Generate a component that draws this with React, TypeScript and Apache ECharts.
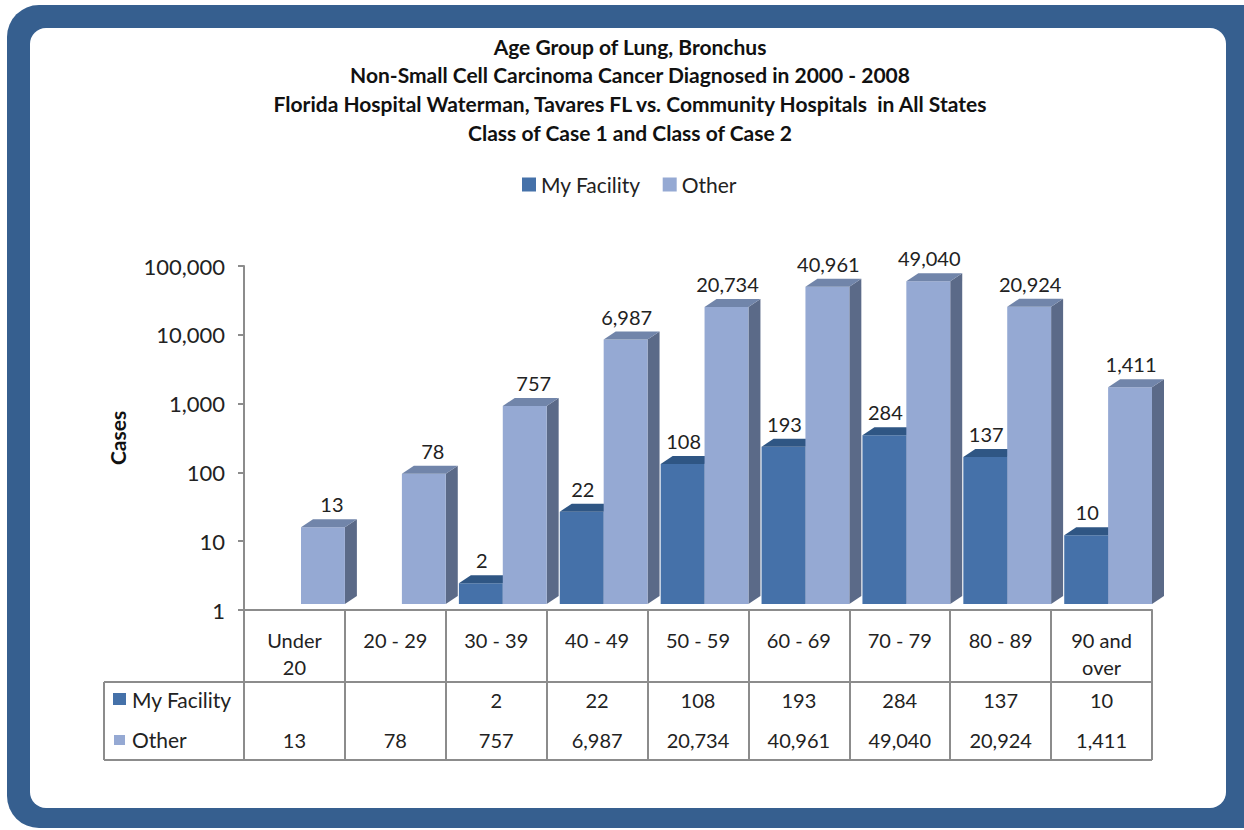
import React, { useEffect, useRef } from "react";
import * as echarts from "echarts";

const titleLines = [
  "Age Group of Lung, Bronchus",
  "Non-Small Cell Carcinoma Cancer Diagnosed in 2000 - 2008",
  "Florida Hospital Waterman, Tavares FL vs. Community Hospitals  in All States",
  "Class of Case 1 and Class of Case 2",
];
const categories = ["Under\n20", "20 - 29", "30 - 39", "40 - 49", "50 - 59", "60 - 69", "70 - 79", "80 - 89", "90 and\nover"];
const myFacility: (number | null)[] = [null, null, 2, 22, 108, 193, 284, 137, 10];
const other: (number | null)[] = [13, 78, 757, 6987, 20734, 40961, 49040, 20924, 1411];
const seriesNames = ["My Facility", "Other"];
const yAxisName = "Cases";

const FONT = "Lato, 'Open Sans', sans-serif";
const GRID = { left: 244, right: 92, top: 266, bottom: 220 };
const DX = 12;
const DY = 8;
const LIFT = 6;

const COLORS = [
  { front: "#4571a9", top: "#2f5684", side: "#2b4c75" },
  { front: "#95a9d3", top: "#7185aa", side: "#5b6a88" },
];

const fmt = (v: number) => v.toLocaleString("en-US");

function makeRender(si: number, tableY: number) {
  return (params: any, api: any) => {
    const idx = api.value(0);
    const val = api.value(1);
    if (val == null || isNaN(val)) return null;
    const c = api.coord([idx, val]);
    const base = api.coord([idx, 1]);
    const bw = api.size([1, 0])[0];
    const c0 = c[0] - bw / 2;
    const w = bw * 0.435;
    const x0 = si === 0 ? c0 + bw * 0.13 : c0 + bw * 0.565;
    const top = c[1] - LIFT;
    const bottom = base[1] - LIFT;
    const col = COLORS[si];
    const labelDx = val < 1000 && si === 1 ? 9 : 1;
    return {
      type: "group",
      children: [
        {
          type: "polygon",
          shape: { points: [[x0 + w, top], [x0 + w + DX, top - DY], [x0 + w + DX, bottom - DY], [x0 + w, bottom]] },
          style: { fill: col.side },
        },
        {
          type: "rect",
          shape: { x: x0, y: top, width: w, height: bottom - top },
          style: { fill: col.front },
        },
        {
          type: "polygon",
          shape: { points: [[x0, top], [x0 + w, top], [x0 + w + DX, top - DY], [x0 + DX, top - DY]] },
          style: { fill: col.top },
        },
        {
          type: "text",
          x: x0 + w / 2 + labelDx,
          y: top - 23,
          style: { text: fmt(val), align: "center", verticalAlign: "middle", font: `20px ${FONT}`, fill: "#222" },
        },
        {
          type: "text",
          x: c[0],
          y: tableY,
          style: { text: fmt(val), align: "center", verticalAlign: "middle", font: `20px ${FONT}`, fill: "#222" },
        },
      ],
    };
  };
}

export default function App() {
  const ref = useRef<HTMLDivElement>(null);
  useEffect(() => {
    if (!ref.current) return;
    const chart = echarts.init(ref.current, undefined, { renderer: "svg" });
    const lineColor = "#8c8c8c";
    const tableLeft = 104;
    const tableRight = 1244 - GRID.right;
    const row1 = 682;
    const row2 = 760;
    const graphics: any[] = [
      { type: "rect", z: -100, silent: true, shape: { x: 7, y: 5, width: 1270, height: 823, r: 32 }, style: { fill: "#365f8f" } },
      { type: "rect", z: -99, silent: true, shape: { x: 30, y: 28, width: 1196, height: 780, r: 16 }, style: { fill: "#ffffff" } },
      ...titleLines.map((t, i) => ({
        type: "text",
        x: 630,
        y: 46 + i * 28.7,
        style: { text: t, align: "center", verticalAlign: "middle", font: `bold 21px ${FONT}`, fill: "#111" },
      })),
      {
        type: "text",
        x: 117,
        y: 438,
        rotation: Math.PI / 2,
        style: { text: yAxisName, align: "center", verticalAlign: "middle", font: `bold 21px ${FONT}`, fill: "#111" },
      },
      { type: "line", shape: { x1: tableLeft, y1: row1, x2: tableRight, y2: row1 }, style: { stroke: lineColor, lineWidth: 2 } },
      { type: "line", shape: { x1: tableLeft, y1: row2, x2: tableRight, y2: row2 }, style: { stroke: lineColor, lineWidth: 2 } },
      { type: "line", shape: { x1: tableLeft, y1: row1, x2: tableLeft, y2: row2 }, style: { stroke: lineColor, lineWidth: 2 } },
      { type: "rect", shape: { x: 113, y: 693, width: 13, height: 12 }, style: { fill: COLORS[0].front } },
      { type: "rect", shape: { x: 114, y: 735, width: 11, height: 10 }, style: { fill: COLORS[1].front } },
      { type: "text", x: 132, y: 699, style: { text: seriesNames[0], align: "left", verticalAlign: "middle", font: `21px ${FONT}`, fill: "#222" } },
      { type: "text", x: 132, y: 739, style: { text: seriesNames[1], align: "left", verticalAlign: "middle", font: `21px ${FONT}`, fill: "#222" } },
    ];
    chart.setOption({
      animation: false,
      backgroundColor: "#ffffff",
      textStyle: { fontFamily: FONT },
      legend: {
        left: 517,
        top: 169,
        icon: "rect",
        itemWidth: 14,
        itemHeight: 14,
        itemGap: 22,
        textStyle: { fontSize: 21, color: "#222", fontFamily: FONT },
        data: seriesNames,
      },
      grid: { ...GRID, containLabel: false },
      xAxis: {
        type: "category",
        data: categories,
        boundaryGap: true,
        axisLine: { lineStyle: { color: lineColor, width: 2 } },
        axisTick: { show: true, interval: 0, alignWithLabel: false, length: 150, lineStyle: { color: lineColor, width: 2 } },
        axisLabel: { interval: 0, fontSize: 20, lineHeight: 27, margin: 16, color: "#222", fontFamily: FONT },
      },
      yAxis: {
        type: "log",
        logBase: 10,
        min: 1,
        max: 100000,
        axisLine: { show: true, lineStyle: { color: lineColor, width: 2 } },
        axisTick: { show: true, length: 6, lineStyle: { color: lineColor, width: 2 } },
        splitLine: { show: false },
        axisLabel: { fontSize: 22, margin: 19, color: "#222", fontFamily: FONT, formatter: (v: number) => fmt(v) },
      },
      graphic: { elements: graphics },
      series: [
        {
          name: seriesNames[0],
          type: "custom",
          coordinateSystem: "cartesian2d",
          clip: false,
          itemStyle: { color: COLORS[0].front },
          encode: { x: 0, y: 1 },
          renderItem: makeRender(0, 700),
          data: myFacility.map((v, i) => [i, v == null ? "-" : v]),
        },
        {
          name: seriesNames[1],
          type: "custom",
          coordinateSystem: "cartesian2d",
          clip: false,
          itemStyle: { color: COLORS[1].front },
          encode: { x: 0, y: 1 },
          renderItem: makeRender(1, 740),
          data: other.map((v, i) => [i, v == null ? "-" : v]),
        },
      ],
    });
    return () => chart.dispose();
  }, []);
  return <div ref={ref} style={{ position: "fixed", left: 0, top: 0, width: 1244, height: 830 }} />;
}
